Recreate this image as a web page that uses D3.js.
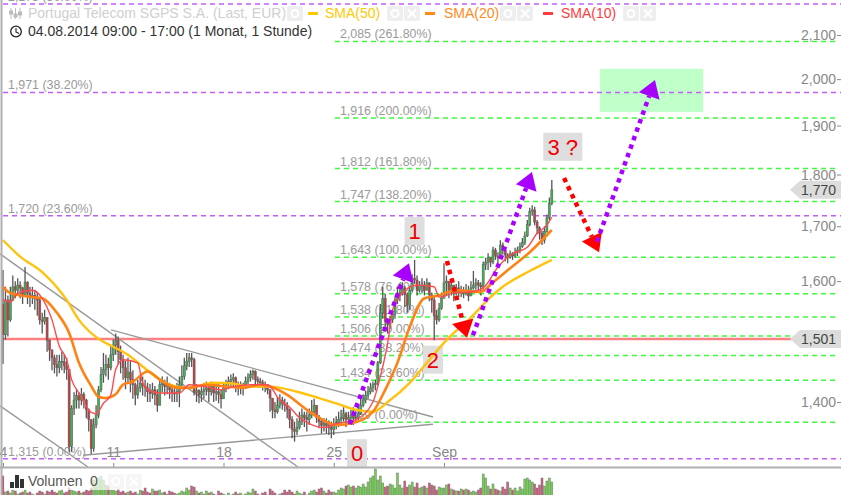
<!doctype html>
<html>
  <head>
    <meta charset="utf-8">
    <script src="https://cdn.jsdelivr.net/npm/d3@7"></script>
    <style>
      html, body { margin: 0; padding: 0; background: #fff; overflow: hidden; }
      svg { display: block; font-family: "Liberation Sans", Arial, sans-serif; }
      .axis path { display: none; }
      .axis text { fill: #888; font-size: 14px; font-family: "Liberation Sans", Arial, sans-serif; }
      .axis line { stroke: #888; }
    </style>
  </head>
  <body>
    <svg width="841" height="495"></svg>

    <script type="text/javascript">
        // prices are in 1/1000 EUR, d3.format(",") gives the "1,500" look of the chart
        // one row = one trading day, 9 hourly bars, 4 Aug to 5 Sep 2014
        var closes = [
            1508,1567,1533,1567,1590,1584,1593,1588,1576,
            1598,1579,1572,1575,1569,1567,1533,1530,1537,
            1499,1483,1470,1459,1454,1464,1464,1457,1451,
            1333,1390,1403,1410,1403,1412,1403,1388,1373,
            1330,1365,1380,1419,1443,1451,1459,1454,1475,
            1491,1499,1480,1467,1454,1438,1447,1435,1427,
            1411,1422,1429,1425,1422,1416,1413,1419,1411,
            1395,1427,1430,1424,1427,1419,1414,1413,1416,
            1427,1440,1457,1464,1470,1467,1415,1418,1411,
            1416,1419,1422,1416,1424,1414,1416,1412,1405,
            1422,1429,1432,1435,1438,1427,1422,1425,1422,
            1432,1438,1443,1448,1435,1432,1430,1427,1422,
            1419,1406,1388,1385,1395,1403,1398,1395,1388,
            1373,1358,1355,1361,1370,1380,1376,1373,1380,
            1385,1395,1376,1370,1364,1367,1364,1361,1358,
            1365,1368,1373,1376,1382,1373,1376,1379,1376,
            1376,1382,1395,1403,1410,1416,1422,1427,1429,
            1462,1545,1570,1530,1525,1533,1542,1567,1576,
            1580,1588,1576,1558,1584,1605,1602,1584,1593,
            1593,1584,1597,1576,1567,1540,1533,1553,1570,
            1597,1600,1584,1593,1579,1588,1581,1584,1579,
            1584,1574,1588,1593,1597,1593,1590,1630,1634,
            1642,1634,1656,1645,1642,1665,1656,1647,1642,
            1649,1645,1652,1656,1663,1670,1682,1703,1728,
            1731,1708,1697,1687,1674,1690,1716,1743,1770
        ];
        var highs = [
            1620,1590,1575,1590,1610,1600,1605,1600,1590,
            1625,1600,1590,1590,1585,1580,1572,1545,1550,
            1530,1500,1480,1475,1475,1475,1480,1475,1470,
            1435,1395,1415,1420,1415,1422,1415,1405,1390,
            1370,1375,1395,1425,1455,1478,1475,1470,1490,
            1500,1510,1505,1490,1475,1465,1470,1465,1450,
            1430,1435,1440,1440,1435,1430,1428,1430,1425,
            1420,1435,1440,1435,1440,1430,1428,1425,1430,
            1440,1458,1470,1478,1478,1478,1470,1428,1420,
            1428,1430,1432,1428,1432,1428,1430,1428,1420,
            1430,1435,1440,1443,1445,1440,1432,1432,1430,
            1440,1445,1450,1451,1450,1440,1438,1435,1432,
            1428,1420,1405,1400,1408,1412,1408,1405,1400,
            1390,1378,1370,1375,1385,1390,1385,1385,1390,
            1403,1405,1395,1380,1375,1375,1375,1372,1370,
            1375,1378,1385,1388,1392,1385,1385,1388,1392,
            1385,1395,1408,1412,1418,1425,1430,1432,1435,
            1465,1560,1590,1578,1535,1540,1550,1572,1590,
            1595,1598,1592,1580,1592,1612,1638,1610,1600,
            1605,1600,1605,1598,1580,1575,1550,1562,1580,
            1632,1610,1598,1605,1590,1595,1600,1592,1590,
            1595,1592,1600,1618,1605,1602,1598,1635,1642,
            1650,1640,1662,1660,1652,1674,1670,1660,1650,
            1655,1652,1660,1662,1670,1678,1690,1712,1735,
            1740,1737,1712,1700,1692,1700,1722,1755,1789
        ];
        var lows = [
            1460,1500,1505,1530,1565,1570,1575,1570,1560,
            1575,1560,1555,1560,1550,1540,1525,1510,1525,
            1480,1465,1450,1445,1440,1445,1450,1445,1435,
            1325,1325,1380,1390,1390,1395,1390,1375,1355,
            1322,1325,1360,1375,1415,1430,1440,1435,1450,
            1465,1475,1460,1445,1435,1420,1430,1415,1405,
            1395,1405,1415,1410,1408,1400,1400,1405,1395,
            1385,1395,1415,1410,1412,1405,1400,1400,1400,
            1392,1420,1435,1450,1455,1455,1410,1400,1398,
            1400,1405,1410,1400,1410,1400,1402,1398,1390,
            1410,1415,1420,1425,1425,1415,1410,1412,1410,
            1420,1428,1432,1435,1428,1422,1422,1418,1415,
            1412,1385,1375,1375,1382,1390,1388,1385,1375,
            1360,1345,1340,1350,1358,1365,1362,1355,1365,
            1375,1378,1368,1360,1352,1355,1352,1350,1345,
            1350,1358,1362,1365,1370,1362,1365,1368,1365,
            1368,1372,1380,1392,1398,1405,1412,1415,1418,
            1425,1460,1535,1520,1510,1518,1528,1535,1560,
            1565,1575,1555,1545,1550,1580,1595,1575,1580,
            1580,1575,1585,1565,1545,1499,1525,1530,1550,
            1570,1575,1570,1575,1565,1575,1572,1572,1570,
            1575,1565,1575,1585,1585,1582,1575,1585,1620,
            1620,1625,1630,1638,1632,1640,1648,1635,1632,
            1640,1638,1642,1645,1650,1660,1665,1680,1700,
            1720,1702,1685,1675,1665,1668,1688,1712,1740
        ];
        var firstOpen = 1560;

        var volumes = [
            24,8,9,7,10,9,6,7,8,
            10,7,8,6,5,7,9,8,6,
            9,8,10,8,7,9,10,7,8,
            12,10,9,8,9,7,8,10,9,
            12,20,17,22,24,20,15,14,10,
            10,9,11,8,9,7,8,9,7,
            8,6,10,9,12,8,7,11,9,
            9,10,7,8,6,9,8,7,6,
            7,9,8,12,10,14,13,9,7,
            8,6,9,7,8,6,5,9,7,
            6,5,7,5,6,8,6,7,5,
            6,8,7,11,9,6,5,7,8,
            5,11,9,7,5,6,7,10,8,
            10,8,6,9,7,6,8,5,7,
            9,10,8,11,12,9,7,10,8,
            8,7,10,12,11,14,15,13,14,
            12,14,13,16,13,18,22,24,31,
            20,24,17,13,14,16,15,12,27,
            15,12,19,13,15,18,13,17,12,
            13,14,12,17,15,14,10,13,12,
            12,15,16,11,10,9,9,11,10,
            11,10,8,9,8,10,12,26,22,
            14,11,16,11,10,9,13,11,18,
            12,10,12,9,13,11,21,22,20,
            18,16,12,15,22,14,19,22,18
        ];

        var sma50Bars = [0,7,16,26,31,38,45,51,57,63,68,75,86,94,100,109,120,129,136,144,151,157,166,173,181,191,199,204,215,224];
        var sma50 = [1674,1644,1616,1567,1533,1504,1488,1475,1456,1438,1427,1422,1430,1429,1424,1424,1416,1406,1398,1388,1385,1400,1430,1462,1499,1537,1572,1590,1618,1638];

        var sma20Bars = [0,3,12,16,22,27,31,36,39,42,46,49,53,59,64,71,76,83,91,98,105,109,116,124,129,136,143,151,156,161,166,172,177,185,195,200,207,215,224];
        var sma20 = [1590,1579,1572,1570,1545,1511,1462,1425,1408,1406,1412,1427,1432,1448,1435,1422,1422,1427,1424,1422,1427,1424,1411,1388,1376,1365,1368,1385,1419,1462,1521,1570,1574,1584,1581,1598,1623,1652,1693];

        var sma10Bars = [0,3,6,12,16,20,23,26,28,31,36,38,41,44,46,49,55,57,61,65,72,76,83,89,94,101,108,113,117,121,125,131,136,144,151,154,157,159,163,169,176,178,184,191,196,202,207,214,218,222,224];
        var sma10 = [1567,1564,1579,1584,1570,1533,1489,1467,1435,1414,1384,1382,1398,1411,1451,1467,1462,1430,1416,1414,1414,1427,1424,1419,1424,1427,1427,1403,1392,1376,1367,1361,1367,1373,1400,1440,1494,1550,1579,1593,1590,1572,1579,1581,1588,1625,1647,1661,1687,1702,1717];

        var priceTicks = [2100, 2000, 1900, 1800, 1700, 1600, 1500, 1400];
        var dayTicks = [0, 45, 90, 135, 180];
        var dayLabels = ["4", "11", "18", "25", "Sep"];

        // fibonacci levels
        var fibUp = [2085, 1916, 1812, 1747, 1643, 1578, 1538, 1506, 1474, 1434, 1369];
        var fibUpPct = ["261.80", "200.00", "161.80", "138.20", "100.00", "76.40", "61.80", "50.00", "38.20", "23.60", "0.00"];
        var fibMain = [2173, 1971, 1720, 1315];
        var fibMainPct = ["50.00", "38.20", "23.60", "0.00"];
        var supportLevel = 1501;
        var lastPrice = 1770;

        // trend lines: bar, price, bar, price
        var trendLines = [
            [-1.2, 1649, 120.4, 1303],
            [44.1, 1516, 175.5, 1377],
            [-1.2, 1394, 34.7, 1303],
            [32.7, 1320, 175.5, 1366]
        ];
        // drawn arrows: bar, price, bar, price
        var purpleArrows = [
            [141.6, 1366, 165.7, 1632],
            [191.8, 1507, 215.9, 1805],
            [242.4, 1671, 266.1, 1998]
        ];
        var redArrows = [
            [181.2, 1636, 189.4, 1503],
            [229, 1793, 243.3, 1652]
        ];
        var targetZone = [243.7, 2023, 285.8, 1929];
        var waveLabels = [
            { t: "1", bar: 168, p: 1691 },
            { t: "2", bar: 175.5, p: 1467 },
            { t: "0", bar: 144.5, p: 1323 },
            { t: "3 ?", bar: 228.5, p: 1856 }
        ];

        var svg = d3.select("svg");

        var x = d3.scaleLinear().domain([0, 224]).range([3, 551.8]);
        var y = d3.scaleLog().domain([1400, 2100]).range([402, 35]);
        var vol = d3.scaleLinear().domain([0, 31]).range([500, 469]);
        var grey = "#9a9a9a";

        // target zone first, levels run over it
        svg.append("rect")
            .attr("x", x(targetZone[0])).attr("y", y(targetZone[1]))
            .attr("width", x(targetZone[2]) - x(targetZone[0]))
            .attr("height", y(targetZone[3]) - y(targetZone[1]))
            .attr("fill", "#bfffc8");

        // fib lines + labels
        svg.selectAll(".fibUp").data(fibUp).enter().append("line")
            .attr("x1", 335).attr("x2", 838)
            .attr("y1", d => y(d)).attr("y2", d => y(d))
            .attr("stroke", "#3dfb3d").attr("stroke-width", 1.5).attr("stroke-dasharray", "5,4");
        svg.selectAll(".fibMain").data(fibMain).enter().append("line")
            .attr("x1", 3).attr("x2", 841)
            .attr("y1", d => y(d)).attr("y2", d => y(d))
            .attr("stroke", "#c45cf8").attr("stroke-width", 1.5).attr("stroke-dasharray", "5,4");
        svg.selectAll(".fibUpT").data(fibUp).enter().append("text")
            .attr("x", 340).attr("y", d => y(d) - 3)
            .attr("fill", grey).attr("font-size", 12.4)
            .text((d, i) => d3.format(",")(d) + " (" + fibUpPct[i] + "%)");
        svg.selectAll(".fibMainT").data(fibMain).enter().append("text")
            .attr("x", 8).attr("y", d => y(d) - 3)
            .attr("fill", grey).attr("font-size", 12.4)
            .text((d, i) => d3.format(",")(d) + " (" + fibMainPct[i] + "%)");

        svg.append("line")
            .attr("x1", 3).attr("x2", 800)
            .attr("y1", y(supportLevel)).attr("y2", y(supportLevel))
            .attr("stroke", "#ff8080").attr("stroke-width", 2.4);

        // grey boxes behind wave numbers
        svg.selectAll(".waveBox").data(waveLabels).enter().append("rect")
            .attr("x", d => x(d.bar) - (d.t.length > 1 ? 19.5 : 10))
            .attr("y", d => y(d.p) - 14)
            .attr("width", d => d.t.length > 1 ? 39 : 20)
            .attr("height", 28)
            .attr("fill", "#dedede");

        // trend lines
        svg.selectAll(".trend").data(trendLines).enter().append("line")
            .attr("x1", d => x(d[0])).attr("y1", d => y(d[1]))
            .attr("x2", d => x(d[2])).attr("y2", d => y(d[3]))
            .attr("stroke", "#999").attr("stroke-width", 1.4);

        // candles, open is the close before
        var bars = closes.map(function(c, i) {
            var o = i ? closes[i - 1] : firstOpen;
            return { i: i, o: o, c: c, h: Math.max(highs[i], o, c), l: Math.min(lows[i], o, c), v: volumes[i] };
        });

        svg.selectAll(".wick").data(bars).enter().append("line")
            .attr("x1", d => x(d.i)).attr("x2", d => x(d.i))
            .attr("y1", d => y(d.h)).attr("y2", d => y(d.l))
            .attr("stroke", "#555").attr("stroke-width", 1.3);
        svg.selectAll(".body").data(bars).enter().append("rect")
            .attr("x", d => x(d.i) - 1)
            .attr("width", 2)
            .attr("y", d => y(Math.max(d.o, d.c)))
            .attr("height", d => Math.max(1, y(Math.min(d.o, d.c)) - y(Math.max(d.o, d.c))))
            .attr("fill", d => d.c >= d.o ? "#35b84a" : "#c8383c")
            .attr("stroke", "#666").attr("stroke-width", 0.6);

        // moving averages
        var line = d3.line().curve(d3.curveMonotoneX).x(d => x(d[0])).y(d => y(d[1]));
        function drawSma(barsIdx, values, color, width) {
            svg.append("path")
                .attr("d", line(barsIdx.map((b, i) => [b, values[i]])))
                .attr("fill", "none").attr("stroke", color).attr("stroke-width", width);
        }
        drawSma(sma50Bars, sma50, "#ffc20e", 2.4);
        drawSma(sma20Bars, sma20, "#ff8214", 2.6);
        drawSma(sma10Bars, sma10, "#ff4a50", 1.4);

        // wave numbers
        svg.selectAll(".wave").data(waveLabels).enter().append("text")
            .attr("x", d => x(d.bar)).attr("y", d => y(d.p) + 8)
            .attr("text-anchor", "middle")
            .attr("fill", "#f00000").attr("font-size", 22)
            .text(d => d.t);

        // dotted arrows
        function drawArrow(a, color) {
            var x1 = x(a[0]), y1 = y(a[1]), x2 = x(a[2]), y2 = y(a[3]);
            var len = Math.sqrt((x2 - x1) * (x2 - x1) + (y2 - y1) * (y2 - y1));
            var ux = (x2 - x1) / len, uy = (y2 - y1) / len;
            var bx = x2 - ux * 17, by = y2 - uy * 17;
            svg.append("line")
                .attr("x1", x1).attr("y1", y1).attr("x2", bx).attr("y2", by)
                .attr("stroke", color).attr("stroke-width", 4.5).attr("stroke-dasharray", "4.5,4.5");
            svg.append("path")
                .attr("d", "M" + x2 + "," + y2 + "L" + (bx - uy * 11) + "," + (by + ux * 11) + "L" + (bx + uy * 11) + "," + (by - ux * 11) + "Z")
                .attr("fill", color);
        }
        redArrows.forEach(a => drawArrow(a, "#ff0000"));
        purpleArrows.forEach(a => drawArrow(a, "#a800ff"));

        // axis
        var yAxis = svg.append("g").attr("class", "axis")
            .attr("transform", "translate(841,0)")
            .call(d3.axisLeft(y).tickValues(priceTicks).tickFormat(d3.format(",")).tickSize(4).tickPadding(1));

        var xAxis = svg.append("g").attr("class", "axis")
            .attr("transform", "translate(0,467)")
            .call(d3.axisTop(x).tickValues(dayTicks).tickFormat((d, i) => dayLabels[i]).tickSize(4).tickPadding(6));

        // price flags
        function flag(price, label, textColor) {
            var py = y(price);
            svg.append("path")
                .attr("d", "M790," + py + "L800," + (py - 9) + "L841," + (py - 9) + "L841," + (py + 9) + "L800," + (py + 9) + "Z")
                .attr("fill", "#dcdcdc");
            svg.append("text").attr("x", 836).attr("y", py + 5)
                .attr("text-anchor", "end").attr("font-size", 14).attr("fill", textColor)
                .text(label);
        }
        flag(lastPrice, d3.format(",")(lastPrice), "#444");
        flag(supportLevel, d3.format(",")(supportLevel), "#444");

        // pane frame
        svg.append("line").attr("x1", 0).attr("x2", 841).attr("y1", 467.5).attr("y2", 467.5)
            .attr("stroke", "#b0b0b0").attr("stroke-width", 2);

        // volume pane
        var volG = svg.append("g");
        volG.selectAll("rect").data(bars).enter().append("rect")
            .attr("x", d => x(d.i) - 1)
            .attr("width", 2)
            .attr("y", d => vol(d.v))
            .attr("height", d => vol(0) - vol(d.v))
            .attr("fill", d => d.c >= d.o ? "#6fd64a" : "#d8557f")
            .attr("stroke", "#777").attr("stroke-width", 0.5);

        svg.append("rect").attr("x", 4).attr("y", 471).attr("width", 138).attr("height", 19)
            .attr("fill", "#fff").attr("opacity", 0.7);

        svg.append("line").attr("x1", 1.5).attr("x2", 1.5).attr("y1", 0).attr("y2", 495)
            .attr("stroke", "#b0b0b0").attr("stroke-width", 2);

        // legend buttons
        function button(bx, by, withX) {
            var g = svg.append("g").attr("transform", "translate(" + bx + "," + by + ")");
            g.append("rect").attr("width", 16).attr("height", 15).attr("rx", 2).attr("fill", "#eeeeee");
            if (withX) {
                g.append("path").attr("d", "M4,3.5L12,11.5M12,3.5L4,11.5")
                    .attr("stroke", "#fff").attr("stroke-width", 2);
            } else {
                g.append("circle").attr("cx", 8).attr("cy", 7.5).attr("r", 3.5)
                    .attr("fill", "none").attr("stroke", "#fff").attr("stroke-width", 2);
            }
            return g;
        }
        function legendEntry(dashX, textX, name, color, b1, b2) {
            svg.append("rect").attr("x", dashX).attr("y", 12).attr("width", 10).attr("height", 3).attr("fill", color);
            svg.append("text").attr("x", textX).attr("y", 18).attr("font-size", 14).attr("fill", color).text(name);
            button(b1, 6, false);
            button(b2, 6, true);
        }

        // legend, first row
        svg.append("text").attr("x", 28).attr("y", 18).attr("font-size", 14).attr("fill", "#cfcfcf")
            .text("Portugal Telecom SGPS S.A. (Last, EUR)");
        var eq = svg.append("g").attr("stroke", "#bbb").attr("fill", "#bbb");
        [11, 15.5, 20].forEach(function(ex, i) {
            eq.append("line").attr("x1", ex).attr("x2", ex).attr("y1", 8).attr("y2", 19).attr("stroke-width", 1);
            eq.append("rect").attr("x", ex - 1.5).attr("y", [11, 14, 12][i]).attr("width", 3).attr("height", 3);
        });
        button(287, 6, false);
        legendEntry(308, 325, "SMA(50)", "#ffc800", 387, 404);
        legendEntry(425, 444, "SMA(20)", "#ff8a1e", 500, 517);
        legendEntry(543, 561, "SMA(10)", "#ff3b3b", 623, 640);

        // second row
        svg.append("circle").attr("cx", 16).attr("cy", 31.5).attr("r", 5.3)
            .attr("fill", "none").attr("stroke", "#222").attr("stroke-width", 1.3);
        svg.append("path").attr("d", "M16,28V32L19,33.5").attr("fill", "none").attr("stroke", "#222").attr("stroke-width", 1.1);
        svg.append("text").attr("x", 28).attr("y", 36).attr("font-size", 14).attr("fill", "#333")
            .text("04.08.2014 09:00 - 17:00 (1 Monat, 1 Stunde)");

        // volume legend
        var volIcon = svg.append("g").attr("fill", "#333");
        [[10, 482, 4, 6], [15, 475, 4, 13], [20, 479, 4, 9]].forEach(function(r) {
            volIcon.append("rect").attr("x", r[0]).attr("y", r[1]).attr("width", r[2]).attr("height", r[3]);
        });
        svg.append("text").attr("x", 28).attr("y", 486).attr("font-size", 14).attr("fill", "#555").text("Volumen");
        svg.append("text").attr("x", 90).attr("y", 486).attr("font-size", 14).attr("fill", "#555").text("0");
        button(108, 474, false).attr("opacity", 0.5);
        button(126, 474, true).attr("opacity", 0.5);
    </script>
  </body>
</html>
